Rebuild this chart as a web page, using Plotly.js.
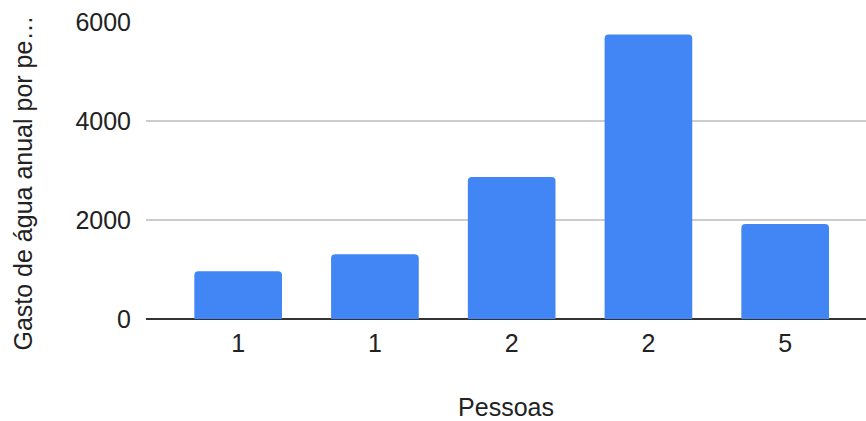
<!DOCTYPE html>
<html>
<head>
<meta charset="utf-8">
<script src="https://cdn.plot.ly/plotly-3.0.1.min.js"></script>
<style>html,body{margin:0;padding:0;background:#fff;}#chart{width:866px;height:421px;}</style>
</head>
<body>
<div id="chart"></div>
<script>
const categories = ["1", "1", "2", "2", "5"];
const values = [964, 1306, 2867, 5750, 1919];
const yTicks = [0, 2000, 4000, 6000];
const xTitle = "Pessoas";
const yTitle = "Gasto de água anual por pe…";

const positions = categories.map((_, i) => i);
const font = "Arial, 'Liberation Sans', sans-serif";

Plotly.newPlot("chart", [{
  type: "bar",
  x: positions,
  y: values,
  marker: {color: "#4285F4", cornerradius: 4},
  hoverinfo: "none"
}], {
  width: 866, height: 421,
  margin: {l: 146, r: 0, t: 22, b: 101.5, pad: 0},
  paper_bgcolor: "#fff", plot_bgcolor: "#fff",
  bargap: 0.359,
  showlegend: false,
  font: {family: font, size: 25, color: "#222"},
  xaxis: {
    range: [-0.674, 4.591],
    tickvals: positions, ticktext: categories,
    showgrid: false, zeroline: false, showline: false,
    ticks: "", ticklen: 0, ticklabelstandoff: 7,
    tickfont: {family: font, size: 25, color: "#222"},
    title: {text: xTitle, font: {family: font, size: 25, color: "#222"}, standoff: 42}
  },
  yaxis: {
    range: [0, 6000],
    tickvals: yTicks, ticktext: yTicks.map(String),
    showgrid: true, gridcolor: "#cccccc", gridwidth: 1.5,
    zeroline: true, zerolinecolor: "#333333", zerolinewidth: 2,
    showline: false, ticks: "", ticklabelstandoff: 14,
    tickfont: {family: font, size: 25, color: "#222"}
  },
  annotations: [{
    text: yTitle, xref: "paper", yref: "paper",
    x: -0.171, y: 0.459, xanchor: "center", yanchor: "middle",
    textangle: -90, showarrow: false,
    font: {family: font, size: 25, color: "#222"}
  }]
}, {staticPlot: true, displayModeBar: false});
</script>
</body>
</html>
